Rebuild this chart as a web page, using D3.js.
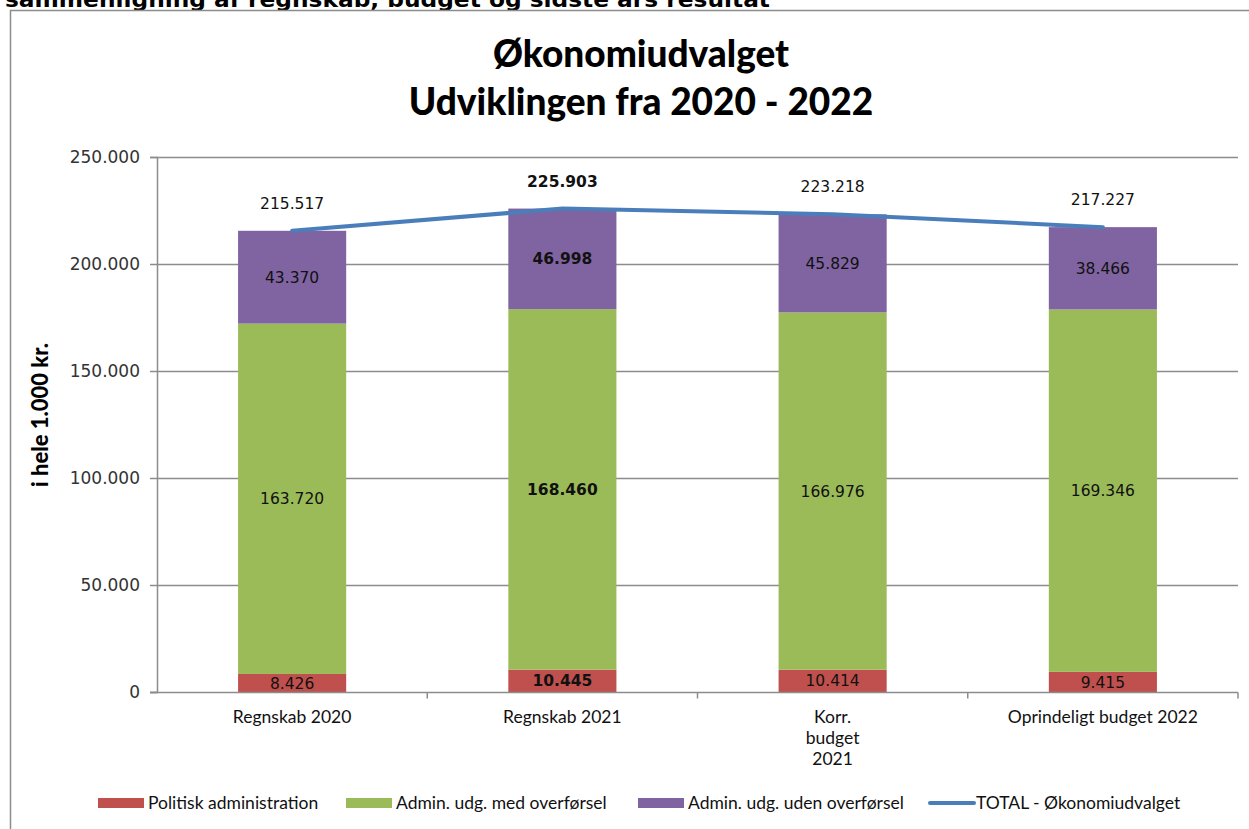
<!DOCTYPE html>
<html>
<head>
<meta charset="utf-8">
<script src="https://cdn.jsdelivr.net/npm/d3@7"></script>
<style>
  body { margin: 0; background: #fff; }
  svg { display: block; }
</style>
</head>
<body>
<div id="chart"></div>
<script>
// data
const categories = ["Regnskab 2020", "Regnskab 2021", "Korr. budget 2021", "Oprindeligt budget 2022"];
const tickLabels = [["Regnskab 2020"], ["Regnskab 2021"], ["Korr.", "budget", "2021"], ["Oprindeligt budget 2022"]];
const politisk = [8426, 10445, 10414, 9415];
const adminMed = [163720, 168460, 166976, 169346];
const adminUden = [43370, 46998, 45829, 38466];
const total = [215517, 225903, 223218, 217227];
const yTicks = [0, 50000, 100000, 150000, 200000, 250000];
const seriesNames = ["Politisk administration", "Admin. udg. med overførsel", "Admin. udg. uden overførsel"];
const lineName = "TOTAL - Økonomiudvalget";
const boldIndex = 1;

const colors = ["#C0504D", "#9BBB59", "#8064A2"];
const lineColor = "#4A7EBB";
const gridColor = "#8C8C8C";

const W = 1249, H = 829;
const plot = { left: 157, right: 1238, top: 157, bottom: 692 };

const dk = d3.formatLocale({ decimal: ",", thousands: ".", grouping: [3], currency: ["", " kr."] });
const fmt = dk.format(",d");

const svg = d3.select("#chart").append("svg")
    .attr("width", W)
    .attr("height", H);

// heading that is cut off at the top of the screenshot
svg.append("text")
    .attr("x", 5)
    .attr("y", 7)
    .attr("textLength", 765)
    .attr("lengthAdjust", "spacingAndGlyphs")
    .style("font-family", "DejaVu Sans")
    .style("font-weight", "bold")
    .style("font-size", "22px")
    .text("sammenligning af regnskab, budget og sidste års resultat");

// chart frame
svg.append("rect")
    .attr("x", 10.5).attr("y", 10.5)
    .attr("width", W + 20).attr("height", H + 20)
    .attr("fill", "none")
    .attr("stroke", "#8C8C8C")
    .attr("stroke-width", 1.5);

// title
const title = svg.append("text")
    .attr("text-anchor", "middle")
    .style("font-family", "Lato")
    .style("font-weight", "900")
    .style("font-size", "37px");
title.append("tspan").attr("x", 641).attr("y", 67).text("Økonomiudvalget");
title.append("tspan").attr("x", 641).attr("y", 115).text("Udviklingen fra 2020 - 2022");

// scales
const x = d3.scaleBand()
    .domain(categories)
    .range([plot.left, plot.right])
    .paddingInner(0.6)
    .paddingOuter(0.3);

const y = d3.scaleLinear()
    .domain([0, 250000])
    .range([plot.bottom, plot.top]);

// gridlines
svg.append("g")
    .selectAll("line")
    .data(yTicks.filter(d => d > 0))
    .enter().append("line")
    .attr("x1", plot.left)
    .attr("x2", plot.right)
    .attr("y1", d => y(d) + 0.5)
    .attr("y2", d => y(d) + 0.5)
    .attr("stroke", gridColor)
    .attr("stroke-width", 1.5);

// y axis
const yAxis = svg.append("g")
    .attr("transform", `translate(${plot.left},0)`)
    .call(d3.axisLeft(y).tickValues(yTicks).tickSize(7).tickPadding(10).tickFormat(fmt));
yAxis.select(".domain").attr("stroke", gridColor).attr("stroke-width", 1.5);
yAxis.selectAll(".tick line").attr("stroke", gridColor).attr("stroke-width", 1.5);
yAxis.selectAll(".tick text")
    .style("font-family", "DejaVu Sans")
    .style("font-size", "17px")
    .attr("fill", "#333");

// y axis title
svg.append("text")
    .attr("transform", "translate(48,415) rotate(-90)")
    .attr("text-anchor", "middle")
    .style("font-family", "Lato")
    .style("font-weight", "900")
    .style("font-size", "22px")
    .text("i hele 1.000 kr.");

// stacked bars
const rows = categories.map((c, i) => ({ cat: c, s0: politisk[i], s1: adminMed[i], s2: adminUden[i] }));
const stack = d3.stack().keys(["s0", "s1", "s2"])(rows);

const layers = svg.append("g")
    .selectAll("g")
    .data(stack)
    .enter().append("g")
    .attr("fill", (d, i) => colors[i]);

layers.selectAll("rect")
    .data(d => d)
    .enter().append("rect")
    .attr("x", d => x(d.data.cat))
    .attr("width", x.bandwidth())
    .attr("y", d => y(d[1]))
    .attr("height", d => y(d[0]) - y(d[1]));

// segment labels
layers.selectAll("text")
    .data(d => d.map(p => ({ p, key: d.key })))
    .enter().append("text")
    .attr("x", d => x(d.p.data.cat) + x.bandwidth() / 2)
    .attr("y", d => (y(d.p[0]) + y(d.p[1])) / 2)
    .attr("dy", "0.36em")
    .attr("text-anchor", "middle")
    .attr("fill", "#111")
    .style("font-family", "DejaVu Sans")
    .style("font-size", "15.5px")
    .style("font-weight", d => categories.indexOf(d.p.data.cat) === boldIndex ? "bold" : "normal")
    .text(d => fmt(d.p.data[d.key]));

// x axis
const xAxisY = plot.bottom + 0.5;
svg.append("line")
    .attr("x1", plot.left - 7).attr("x2", plot.right)
    .attr("y1", xAxisY).attr("y2", xAxisY)
    .attr("stroke", gridColor).attr("stroke-width", 1.5);

const step = x.step();
svg.append("g")
    .selectAll("line")
    .data(categories.map(c => x(c) + x.bandwidth() / 2 + step / 2).slice(0, 3).concat([plot.right]))
    .enter().append("line")
    .attr("x1", d => d).attr("x2", d => d)
    .attr("y1", xAxisY).attr("y2", xAxisY + 6)
    .attr("stroke", gridColor).attr("stroke-width", 1.5);

const xl = svg.append("g")
    .selectAll("text")
    .data(categories)
    .enter().append("text")
    .attr("text-anchor", "middle")
    .attr("fill", "#111")
    .style("font-family", "Lato")
    .style("font-size", "17.5px");
xl.each(function (c, i) {
    d3.select(this).selectAll("tspan")
        .data(tickLabels[i])
        .enter().append("tspan")
        .attr("x", x(c) + x.bandwidth() / 2)
        .attr("y", (d, j) => 723 + j * 21)
        .text(d => d);
});

// total line
const line = d3.line()
    .x((d, i) => x(categories[i]) + x.bandwidth() / 2)
    .y(d => y(d));

svg.append("path")
    .datum(total)
    .attr("d", line)
    .attr("fill", "none")
    .attr("stroke", lineColor)
    .attr("stroke-width", 4)
    .attr("stroke-linecap", "round");

svg.append("g")
    .selectAll("text")
    .data(total)
    .enter().append("text")
    .attr("x", (d, i) => x(categories[i]) + x.bandwidth() / 2)
    .attr("y", d => y(d) - 22)
    .attr("text-anchor", "middle")
    .attr("fill", "#111")
    .style("font-family", "DejaVu Sans")
    .style("font-size", "15.5px")
    .style("font-weight", (d, i) => i === boldIndex ? "bold" : "normal")
    .text(d => fmt(d));

// legend
const legendItems = [
    { name: seriesNames[0], color: colors[0], type: "rect", x: 98 },
    { name: seriesNames[1], color: colors[1], type: "rect", x: 346 },
    { name: seriesNames[2], color: colors[2], type: "rect", x: 638 },
    { name: lineName, color: lineColor, type: "line", x: 930 }
];
const legend = svg.append("g")
    .selectAll("g")
    .data(legendItems)
    .enter().append("g")
    .attr("transform", d => `translate(${d.x},803)`);

legend.filter(d => d.type === "rect").append("rect")
    .attr("x", 0).attr("y", -5)
    .attr("width", 46).attr("height", 10)
    .attr("fill", d => d.color);

legend.filter(d => d.type === "line").append("line")
    .attr("x1", 0).attr("x2", 44)
    .attr("y1", 0).attr("y2", 0)
    .attr("stroke", d => d.color)
    .attr("stroke-width", 4)
    .attr("stroke-linecap", "round");

legend.append("text")
    .attr("x", d => d.type === "line" ? 46 : 50)
    .attr("y", 0)
    .attr("dy", "0.35em")
    .attr("fill", "#111")
    .style("font-family", "Lato")
    .style("font-size", "17.5px")
    .text(d => d.name);
</script>
</body>
</html>
